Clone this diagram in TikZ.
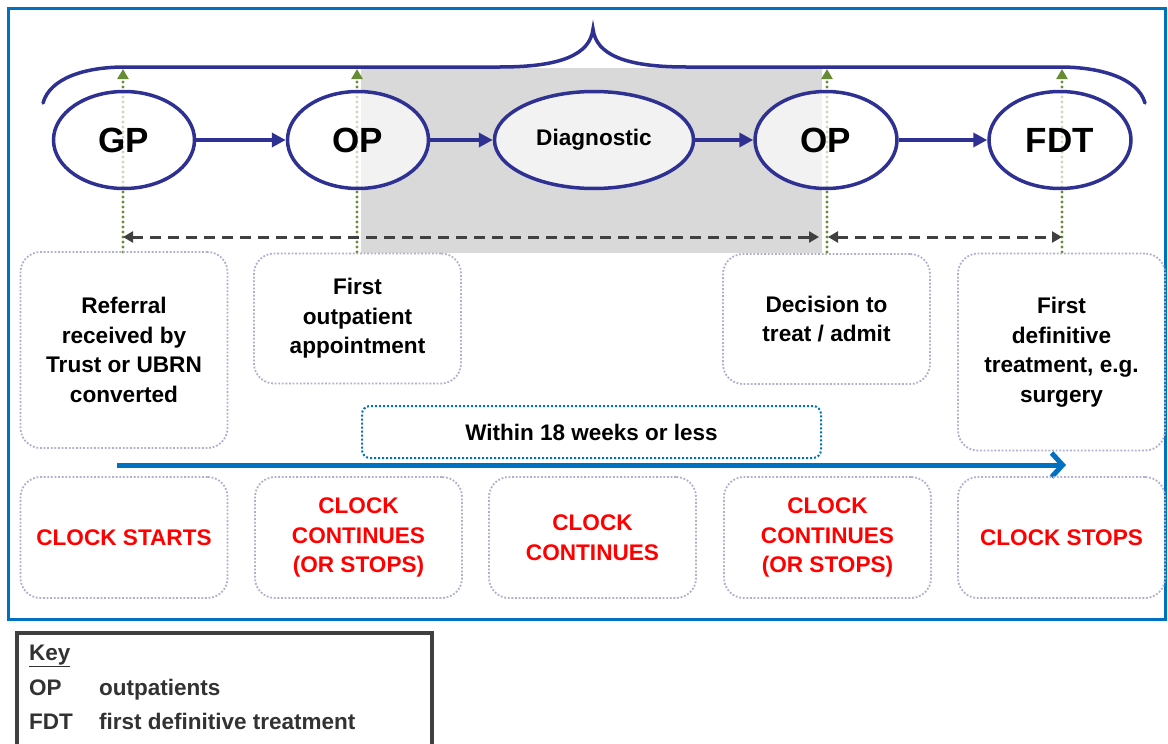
\documentclass[tikz,border=0pt]{standalone}
\usepackage{fontspec}
\setmainfont{Liberation Sans}
\usetikzlibrary{arrows.meta,shapes.geometric}
\definecolor{navy}{RGB}{46,49,146}
\definecolor{frameblue}{RGB}{0,112,192}
\definecolor{dgreen}{RGB}{104,140,52}
\definecolor{boxgray}{RGB}{175,175,208}
\definecolor{shadegray}{RGB}{217,217,217}
\definecolor{dgray}{RGB}{64,64,64}
\definecolor{keygray}{RGB}{50,50,50}
\definecolor{clockred}{RGB}{255,0,0}
\begin{document}
\begin{tikzpicture}[x=1pt,y=-1pt,
  ell/.style={ellipse, draw=navy, line width=3.5pt, fill=white, fill opacity=0.66, text opacity=1,
    inner sep=0pt, minimum height=97pt, font=\bfseries\fontsize{35}{35}\selectfont},
  flow/.style={navy, line width=3.5pt, -{Triangle[length=14pt,width=14pt]}},
  greenline/.style={dgreen, line width=3.4pt, dash pattern=on 0pt off 5pt, line cap=round,
    -{Triangle[length=10pt,width=11pt,line cap=butt]}},
  dasharrow/.style={dgray, line width=3pt, dash pattern=on 11pt off 7pt,
    {Triangle[length=10pt,width=11pt]}-{Triangle[length=10pt,width=11pt]}},
  clockbox/.style={draw=boxgray, line width=1.8pt, dash pattern=on 1.8pt off 1.8pt,
    rounded corners=20pt, inner sep=0pt, align=center, minimum width=207pt,
    font=\bfseries\fontsize{22.6}{29.5}\selectfont},
  redbox/.style={clockbox, minimum height=121pt, text=clockred},
  withinbox/.style={draw=frameblue, line width=2pt, dash pattern=on 2pt off 2pt,
    rounded corners=8pt, inner sep=0pt, font=\bfseries\fontsize{22.5}{25}\selectfont},
  keytext/.style={inner sep=0pt, anchor=base west, text=keygray,
    font=\bfseries\fontsize{22.5}{24}\selectfont}
]
\useasboundingbox (0,0) rectangle (1168,744);
\fill[white] (0,0) rectangle (1168,744);

% outer frame
\draw[frameblue, line width=3pt] (8,8) rectangle (1165,619);
% shaded period
\fill[shadegray] (361,68) rectangle (822,253);

% green dotted markers
\coordinate (gt1) at (123,69);  \coordinate (gb1) at (123,252);
\coordinate (gt2) at (357,69);  \coordinate (gb2) at (357,252);
\coordinate (gt3) at (827,69);  \coordinate (gb3) at (827,252);
\coordinate (gt4) at (1062,69); \coordinate (gb4) at (1062,252);
\draw[greenline] (gb1) -- (gt1);
\draw[greenline] (gb2) -- (gt2);
\draw[greenline] (gb3) -- (gt3);
\draw[greenline] (gb4) -- (gt4);

% brace
\draw[navy, line width=3.5pt, line cap=round]
  (43,103) .. controls (50,78) and (85,67) .. (125,67) -- (500,67)
  .. controls (560,67) and (590,55) .. (593,29)
  .. controls (596,55) and (626,67) .. (686,67) -- (1060,67)
  .. controls (1100,67) and (1138,78) .. (1145,103);

% pathway ellipses
\node[ell, minimum width=141pt] (gp) at (124,140) {GP};
\node[ell, minimum width=141pt] (op1) at (358,140) {OP};
\node[ell, minimum width=199pt, font=\bfseries\fontsize{22.6}{22.6}\selectfont] (diag) at (594,140) {Diagnostic};
\node[ell, minimum width=142pt] (op2) at (826,140) {OP};
\node[ell, minimum width=142pt] (fdt) at (1060,140) {FDT};
\draw[flow] (gp) -- (op1);
\draw[flow] (op1) -- (diag);
\draw[flow] (diag) -- (op2);
\draw[flow] (op2) -- (fdt);

% dashed interval arrows
\coordinate (d1) at (123,237);
\coordinate (d2) at (819,237);
\coordinate (d3) at (828,237);
\coordinate (d4) at (1062,237);
\draw[dasharrow] (d1) -- (d2);
\draw[dasharrow] (d3) -- (d4);

% event boxes
\node[clockbox, minimum height=196pt] (b1) at (124,350) {Referral\\received by\\Trust or UBRN\\converted};
\node[clockbox, minimum height=130pt] (b2) at (357.5,318.5) {First\\outpatient\\appointment};
\node[clockbox, minimum height=130pt] (b3) at (826.5,319) {Decision to\\treat / admit};
\node[clockbox, minimum height=197pt] (b4) at (1061.5,352) {First\\definitive\\treatment, e.g.\\surgery};

% within box and timeline
\node[withinbox, minimum width=459pt, minimum height=52pt] (within) at (591.5,432) {Within 18 weeks or less};
\coordinate (a1) at (117,465);
\coordinate (a2) at (1066,465);
\draw[frameblue, line width=5pt, -{Straight Barb[length=11pt,width=24pt]}] (a1) -- (a2);

% clock boxes
\node[redbox] (c1) at (124,537.5) {CLOCK STARTS};
\node[redbox] (c2) at (358.5,537.5) {CLOCK\\CONTINUES\\(OR STOPS)};
\node[redbox] (c3) at (592.5,537.5) {CLOCK\\CONTINUES};
\node[redbox] (c4) at (827.5,537.5) {CLOCK\\CONTINUES\\(OR STOPS)};
\node[redbox] (c5) at (1061.5,537.5) {CLOCK STOPS};

% key
\draw[dgray, line width=3.5pt] (17,633) rectangle (432,760);
\node[keytext] (key) at (29,660) {\underline{Key}};
\node[keytext] (kop) at (29,695) {OP};
\node[keytext] (kopd) at (99,695) {outpatients};
\node[keytext] (kfdt) at (29,729) {FDT};
\node[keytext] (kfdtd) at (99,729) {first definitive treatment};
\end{tikzpicture}
\end{document}
